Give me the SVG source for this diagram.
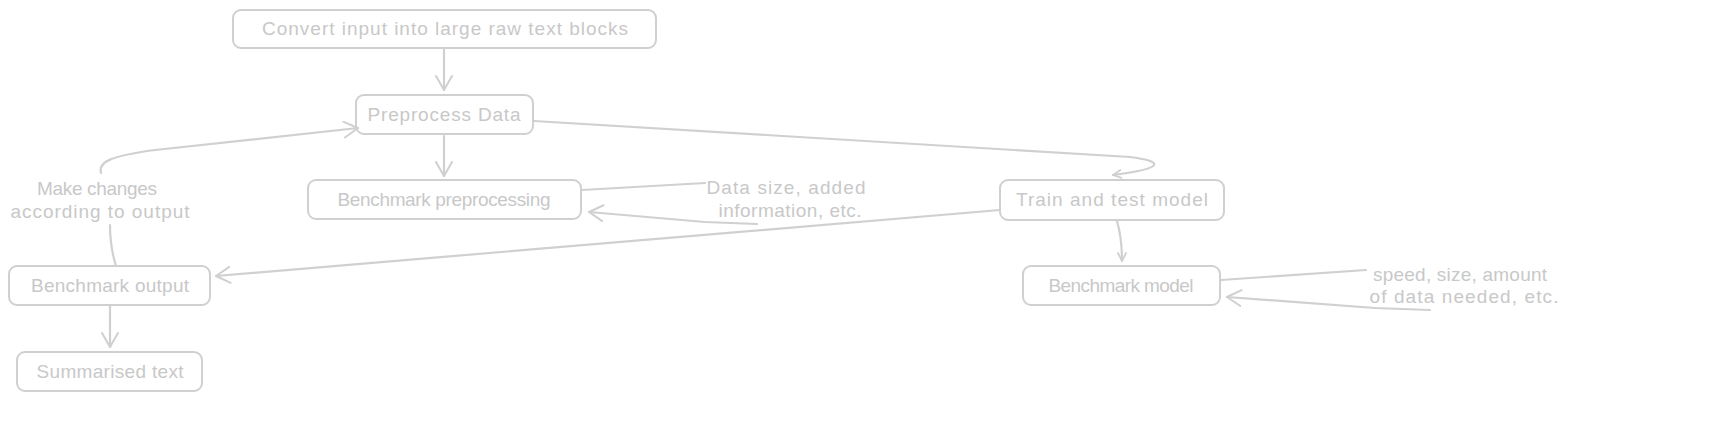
<svg xmlns="http://www.w3.org/2000/svg" width="1716" height="438" viewBox="0 0 1716 438">
<defs>
<style>
.box{fill:none;stroke:#d0d0d0;stroke-width:2}
.c{fill:none;stroke:#d0d0d0;stroke-width:2.2;stroke-linecap:round;stroke-linejoin:round}
text{font-family:"Liberation Sans",Arial,sans-serif;font-size:19px;fill:#c8c8c8;text-anchor:middle}
</style>
<marker id="big" viewBox="0 0 16 18" refX="15" refY="9" markerWidth="16" markerHeight="18" markerUnits="userSpaceOnUse" orient="auto">
<path d="M1,1 L15,9 L1,17" fill="none" stroke="#d0d0d0" stroke-width="2" stroke-linecap="round"/>
</marker>
<marker id="small" viewBox="0 0 10 10" refX="9" refY="5" markerWidth="10" markerHeight="10" markerUnits="userSpaceOnUse" orient="auto">
<path d="M1,1 L9,5 L1,9" fill="none" stroke="#d0d0d0" stroke-width="1.8" stroke-linecap="round"/>
</marker>
</defs>
<rect width="1716" height="438" fill="#ffffff"/>
<g id="connectors">
<path class="c" d="M444,49 L444,90" marker-end="url(#big)"/>
<path class="c" d="M444,136 L444,176" marker-end="url(#big)"/>
<path class="c" d="M534,121 L1130,157 C1162,161 1168,168 1113,175" marker-end="url(#small)"/>
<path class="c" d="M582,190 L705,183"/>
<path class="c" d="M757,224 L705,222 L589,212" marker-end="url(#big)"/>
<path class="c" d="M1000,210 L216,276" marker-end="url(#big)"/>
<path class="c" d="M1117,221 C1121,235 1122,245 1122,261" marker-end="url(#small)"/>
<path class="c" d="M1221,280 L1366,270"/>
<path class="c" d="M1430,310 L1375,308 L1227,297" marker-end="url(#big)"/>
<path class="c" d="M116,266 C111,250 110,240 110,225"/>
<path class="c" d="M101,173 C98,162 110,156 155,150 L358,128" marker-end="url(#big)"/>
<path class="c" d="M110,306 L110,347" marker-end="url(#big)"/>
</g>
<g id="n1"><rect class="box" x="233" y="10" width="423" height="38" rx="8"/><text x="445" y="35" textLength="366" lengthAdjust="spacing">Convert input into large raw text blocks</text></g>
<g id="n2"><rect class="box" x="356" y="95" width="177" height="39" rx="8"/><text x="444" y="121" textLength="153" lengthAdjust="spacing">Preprocess Data</text></g>
<g id="n3"><rect class="box" x="308" y="180" width="273" height="39" rx="8"/><text x="444" y="206" textLength="213" lengthAdjust="spacing">Benchmark preprocessing</text></g>
<g id="n4"><rect class="box" x="1000" y="180" width="224" height="40" rx="8"/><text x="1112" y="206" textLength="192" lengthAdjust="spacing">Train and test model</text></g>
<g id="n5"><rect class="box" x="1023" y="266" width="197" height="39" rx="8"/><text x="1121" y="292" textLength="145" lengthAdjust="spacing">Benchmark model</text></g>
<g id="n6"><rect class="box" x="9" y="266" width="201" height="39" rx="8"/><text x="110" y="292" textLength="158" lengthAdjust="spacing">Benchmark output</text></g>
<g id="n7"><rect class="box" x="17" y="352" width="185" height="39" rx="8"/><text x="110" y="378" textLength="147" lengthAdjust="spacing">Summarised text</text></g>
<g id="l1"><text x="97" y="195" textLength="120" lengthAdjust="spacing">Make changes</text><text x="100" y="218" textLength="179" lengthAdjust="spacing">according to output</text></g>
<g id="l2"><text x="786" y="194" textLength="159" lengthAdjust="spacing">Data size, added</text><text x="790" y="217" textLength="143" lengthAdjust="spacing">information, etc.</text></g>
<g id="l3"><text x="1460" y="281" textLength="174" lengthAdjust="spacing">speed, size, amount</text><text x="1464" y="303" textLength="189" lengthAdjust="spacing">of data needed, etc.</text></g>
</svg>
